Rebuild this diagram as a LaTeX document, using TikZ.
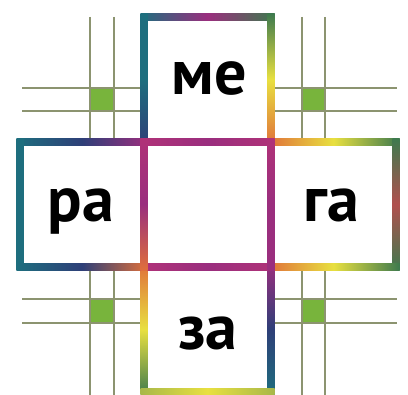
\documentclass[tikz,border=0pt]{standalone}
\usepackage{fontspec}
\setmainfont{PT Sans}
\usetikzlibrary{positioning}
\definecolor{rteal}{HTML}{1E6E7E}
\definecolor{rnavy}{HTML}{2E3F78}
\definecolor{rplum}{HTML}{9A2E7E}
\definecolor{rmagenta}{HTML}{B03278}
\definecolor{rorange}{HTML}{E0703A}
\definecolor{ryellow}{HTML}{E8E040}
\definecolor{rgreen}{HTML}{3E7A4E}
\definecolor{rbrick}{HTML}{B0504E}
\definecolor{rolive}{HTML}{A8B84A}
\definecolor{gridline}{HTML}{8C9470}
\definecolor{gridfill}{HTML}{78B43C}
\tikzset{
  syl/.style={font=\fontsize{64}{64}\selectfont\bfseries,inner sep=0pt,anchor=base,text=black},
  gline/.style={draw=gridline,line width=1.3pt},
  gdot/.style={fill=gridfill,draw=none}
}
% band along x: x1, x2, y, left/middle/right colour
\newcommand{\HBand}[6]{%
  \shade[left color=#4,right color=#6,middle color=#5] ({#1-3.5},{#3-3.5}) rectangle ({#2+3.5},{#3+3.5});
}
% band along y: y1, y2, x, top/middle/bottom colour
\newcommand{\VBand}[6]{%
  \shade[top color=#4,bottom color=#6,middle color=#5] ({#3-3.5},{#1-3.5}) rectangle ({#3+3.5},{#2+3.5});
}
% two lines each way and the dot in their middle
\newcommand{\GridMark}[8]{%
  \fill[gdot] ({#1+1},{#3+1}) rectangle ({#2-1},{#4-1});
  \draw[gline] (#1,#7) -- (#1,#8) (#2,#7) -- (#2,#8);
  \draw[gline] (#5,#3) -- (#6,#3) (#5,#4) -- (#6,#4);
}

\begin{document}
\begin{tikzpicture}[x=1pt,y=-1pt]
  \useasboundingbox[fill=white] (0,0) rectangle (408,395);

  % corner grids
  \GridMark{90}{114}{88}{111}{22}{144}{17}{142}
  \GridMark{302}{325}{88}{111}{271}{397}{17}{142}
  \GridMark{90}{114}{299}{323}{22}{144}{267}{395}
  \GridMark{302}{325}{299}{323}{271}{397}{267}{395}

  % outer frames
  \HBand{144}{271}{17}{rteal}{rplum}{rgreen}
  \VBand{17}{142}{144}{rteal}{rteal}{rnavy}
  \VBand{17}{142}{271}{rgreen}{ryellow}{rorange}
  \HBand{20}{144}{142}{rteal}{rnavy}{rplum}
  \VBand{142}{267}{20}{rteal}{rteal}{rteal}
  \HBand{20}{144}{267}{rteal}{rnavy}{rorange}
  \HBand{271}{396}{142}{rorange}{ryellow}{rgreen}
  \VBand{142}{267}{396}{rgreen}{rbrick}{rgreen}
  \HBand{271}{396}{267}{rorange}{ryellow}{rgreen}
  \VBand{267}{392}{144}{rorange}{ryellow}{rgreen}
  \VBand{267}{392}{271}{rplum}{rnavy}{rteal}
  \HBand{144}{271}{392}{rolive}{ryellow}{rolive}

  % middle square
  \HBand{144}{271}{142}{rmagenta}{rplum}{rmagenta}
  \HBand{144}{271}{267}{rmagenta}{rplum}{rmagenta}
  \VBand{142}{267}{144}{rmagenta}{rplum}{rorange}
  \VBand{142}{267}{271}{rmagenta}{rplum}{rplum}

  % syllables
  \node[syl] (me) at (209,95) {ме};
  \node[syl] (ra) at (81,222) {ра};
  \node[syl] (ga) at (331,222) {га};
  \node[syl] (za) at (208,350) {за};
\end{tikzpicture}
\end{document}
